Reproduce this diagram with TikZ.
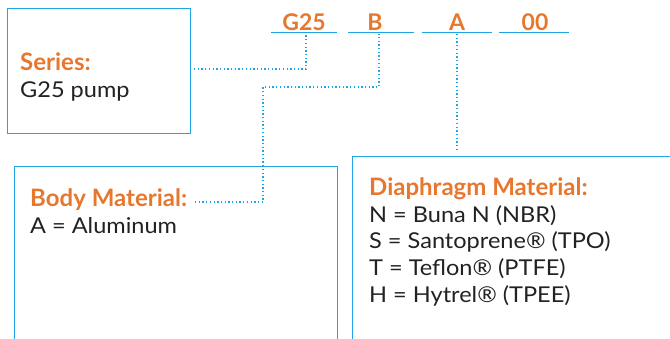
\documentclass[tikz,border=0pt]{standalone}
\usepackage{fontspec}
\setmainfont{Lato}[FakeStretch=1.08]
\newfontfamily\headfont{Lato}
\definecolor{obrand}{HTML}{E8772E}
\definecolor{bbrand}{HTML}{1FA5E3}
\definecolor{tgray}{HTML}{222222}
\begin{document}
\begin{tikzpicture}[x=1pt,y=-1pt,
  box/.style={draw=bbrand,line width=1pt},
  dotline/.style={draw=bbrand,line width=1.3pt,dash pattern=on 1.3pt off 2.4pt},
  uline/.style={draw=bbrand,line width=1pt},
  head/.style={text=obrand,font=\headfont\fontsize{24}{28}\selectfont\bfseries,anchor=base west,inner sep=0pt},
  bodytxt/.style={text=tgray,font=\fontsize{21.8}{26}\selectfont,anchor=base west,inner sep=0pt},
  code/.style={text=obrand,font=\headfont\fontsize{23}{26}\selectfont\bfseries,anchor=base,inner sep=0pt}]
\useasboundingbox (0,0) rectangle (670,338);
% boxes
\draw[box] (7,8) rectangle (190,133);
\draw[box] (14,339) |- (337,166) -- (337,339);
\draw[box] (352.5,339) |- (671,156);
% code underlines
\draw[uline] (271,32) -- (337,32);
\draw[uline] (348,32) -- (414,32);
\draw[uline] (422,32) -- (492,32);
\draw[uline] (499,32) -- (569,32);
% code letters
\node[code] (cg) at (304,30) {G25};
\node[code] (cb) at (375,30) {B};
\node[code] (ca) at (457,30) {A};
\node[code] (co) at (535,30) {00};
\coordinate (gpt) at (306,34);
\coordinate (bpt) at (379,34);
\coordinate (apt) at (457,34);
% texts
\node[head] (serieslbl) at (20,70) {Series:};
\node[bodytxt] (seriesval) at (20,97) {G25 pump};
\node[head] (bodylbl) at (30,206) {Body Material:};
\node[bodytxt] (bodyval) at (30,233) {A = Aluminum};
\node[head] (diaphlbl) at (369,195) {Diaphragm Material:};
\node[bodytxt] (d1) at (369,222) {N = Buna N (NBR)};
\node[bodytxt] (d2) at (369,248.5) {S = Santoprene® (TPO)};
\node[bodytxt] (d3) at (369,275) {T = Teflon® (PTFE)};
\node[bodytxt] (d4) at (369,302) {H = Hytrel® (TPEE)};
% connectors
\coordinate (sfree) at (194,69);
\coordinate (bfree) at (195,202);
\coordinate (bturn) at (263,87);
\coordinate (afree) at (457,151);
\draw[dotline] (sfree) -| (gpt);
\draw[dotline] (bfree) -| (bturn) -| (bpt);
\draw[dotline] (apt) -- (afree);
\end{tikzpicture}
\end{document}
